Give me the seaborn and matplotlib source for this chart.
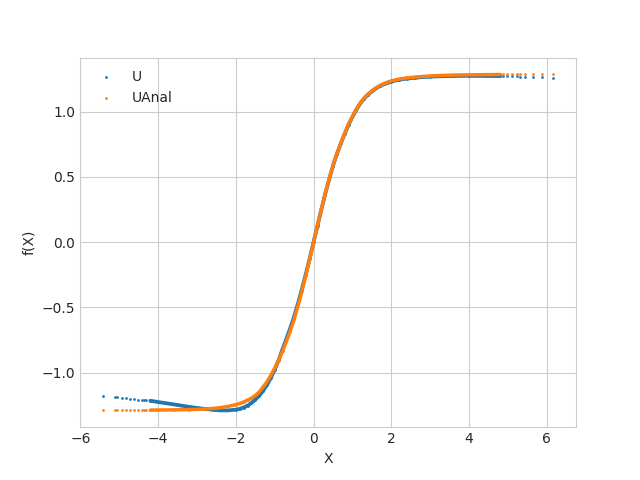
import numpy as np
import matplotlib
matplotlib.use('Agg')
import matplotlib.pyplot as plt
import seaborn as sns

# 왼쪽 꼬리 (드문드문 찍힌 점들)
x_left = [-5.43, -5.12, -5.05, -4.93, -4.83, -4.73, -4.62, -4.52, -4.42, -4.37, -4.30]
u_left = [-1.178, -1.188, -1.190, -1.194, -1.197, -1.200, -1.203, -1.206, -1.209, -1.210, -1.212]
ua_left = [-1.287] * len(x_left)

# 가운데 (점이 빽빽해서 선처럼 보이는 구간)
x_core = [-4.2, -4.0, -3.6, -3.2, -2.8, -2.6, -2.4, -2.2, -2.0, -1.9, -1.8, -1.7, -1.6, -1.5,
          -1.4, -1.3, -1.2, -1.1, -1.0, -0.9, -0.8, -0.7, -0.6, -0.5, -0.4, -0.3, -0.2, -0.1,
          0.0, 0.1, 0.2, 0.3, 0.4, 0.5, 0.6, 0.7, 0.8, 0.9, 1.0, 1.1, 1.2, 1.3, 1.4, 1.5,
          1.6, 1.7, 1.8, 1.9, 2.0, 2.2, 2.4, 2.6, 2.8, 3.0, 3.3, 3.6, 4.0, 4.4, 4.8]
u_core = [-1.215, -1.225, -1.243, -1.262, -1.278, -1.284, -1.289, -1.289, -1.283, -1.277,
          -1.267, -1.252, -1.232, -1.206, -1.176, -1.138, -1.094, -1.040, -0.976, -0.904,
          -0.820, -0.740, -0.658, -0.568, -0.467, -0.358, -0.243, -0.123,
          0.003, 0.127, 0.252, 0.372, 0.482, 0.587, 0.677, 0.757, 0.831, 0.901, 0.961,
          1.016, 1.063, 1.101, 1.131, 1.156, 1.178, 1.196, 1.210, 1.221, 1.231, 1.245,
          1.254, 1.260, 1.265, 1.269, 1.272, 1.274, 1.275, 1.274, 1.273]
ua_core = [-1.287, -1.286, -1.285, -1.283, -1.279, -1.274, -1.268, -1.258, -1.245, -1.236,
           -1.224, -1.210, -1.195, -1.175, -1.148, -1.110, -1.070, -1.020, -0.965, -0.905,
           -0.835, -0.760, -0.680, -0.590, -0.485, -0.375, -0.255, -0.130,
           0.0, 0.130, 0.255, 0.375, 0.485, 0.590, 0.680, 0.760, 0.835, 0.905, 0.965,
           1.020, 1.068, 1.105, 1.135, 1.160, 1.182, 1.200, 1.214, 1.226, 1.236, 1.250,
           1.259, 1.265, 1.270, 1.274, 1.278, 1.281, 1.283, 1.284, 1.285]

# 오른쪽 꼬리
x_right = [4.88, 4.97, 5.10, 5.23, 5.31, 5.44, 5.65, 5.87, 6.17]
u_right = [1.272, 1.271, 1.270, 1.270, 1.269, 1.268, 1.267, 1.265, 1.262]
ua_right = [1.286] * len(x_right)

x_all = x_left + x_core + x_right
u_all = u_left + u_core + u_right
ua_all = ua_left + ua_core + ua_right

sns.set_style('whitegrid')
plt.rcParams.update({'xtick.major.size': 0, 'ytick.major.size': 0,
                     'lines.solid_capstyle': 'round'})
fig, ax = plt.subplots(figsize=(6.4, 4.8), dpi=100)

c_u, c_ua = '#1f77b4', '#ff7f0e'

# U
sns.lineplot(x=x_core, y=u_core, color=c_u, linewidth=2.7, sort=False, estimator=None, ax=ax)
sns.scatterplot(x=x_all, y=u_all, color=c_u, s=4, linewidth=0, label='U', ax=ax)

# UAnal
sns.lineplot(x=x_core, y=ua_core, color=c_ua, linewidth=2.5, sort=False, estimator=None, ax=ax)
sns.scatterplot(x=x_all, y=ua_all, color=c_ua, s=4, linewidth=0, label='UAnal', ax=ax)

ax.set_xlabel('X')
ax.set_ylabel('f(X)')
ax.legend(loc='upper left', frameon=False)

plt.savefig('out.png', dpi=100)
